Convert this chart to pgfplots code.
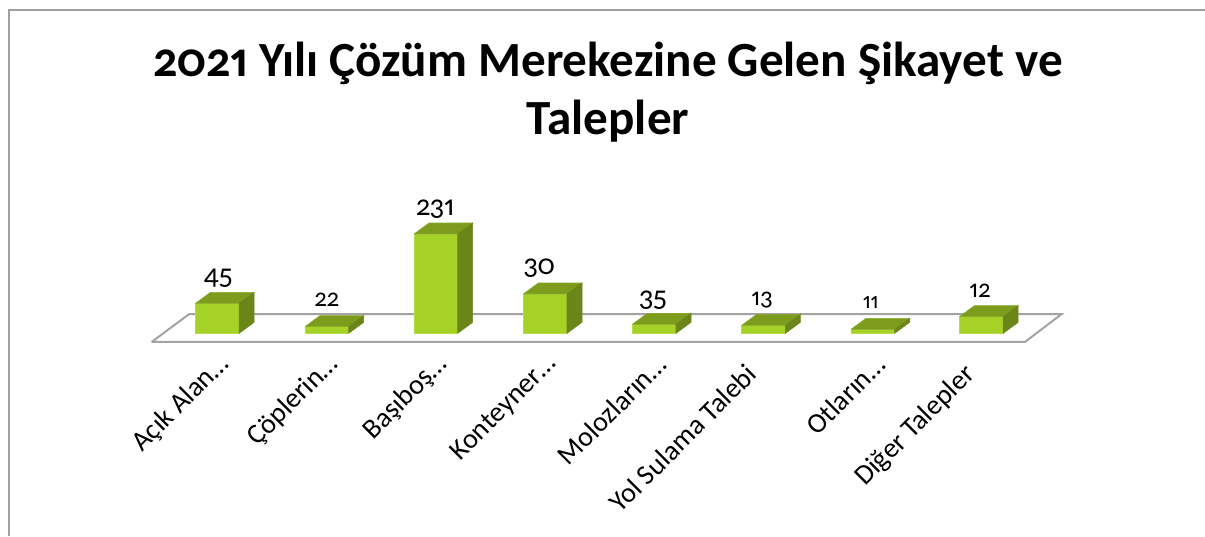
\documentclass[border=0pt]{standalone}
\usepackage{pgfplots}
\pgfplotsset{compat=1.18}
\usepackage{fontspec}
\setmainfont{Carlito}[Numbers={OldStyle,Proportional}]
\definecolor{front}{HTML}{A6D228}
\definecolor{topc}{HTML}{7D9C1E}
\definecolor{sidec}{HTML}{6B8618}
\definecolor{edgec}{HTML}{B5DC4A}
\definecolor{floorc}{HTML}{A3A3A3}
\definecolor{framec}{HTML}{A0A0A0}
\newcommand{\longlab}[1]{\raisebox{11pt}{#1}\kern15pt\relax}
\begin{document}
\begin{tikzpicture}
\begin{axis}[
  scale only axis, width=903.75pt, height=402pt,
  xmin=0, xmax=1205, ymin=-202.7, ymax=333.3,
  axis line style={draw=none}, major tick length=0pt,
  ytick=\empty,
  xtick={217.35,326.85,435.85,545.15,654.15,763.55,872.85,981.35},
  xticklabels={Açık Alan…,Çöplerin…,Başıboş…,Konteyner…,Molozların…,\longlab{Yol Sulama Talebi},Otların…,\longlab{Diğer Talepler}},
  xticklabel style={xshift=5.5pt, yshift=132pt, rotate=45, anchor=east, font=\fontsize{21}{24}\selectfont, inner sep=0pt},
]
% frame and floor
\addplot[draw=framec, line width=1.2pt, forget plot] coordinates {(9,-202.7)(9,323.5)(1205,323.5)};
\addplot[draw=floorc, line width=1.5pt, forget plot] coordinates {(151.7,-8.6)(189.3,19.3)(1061.7,19.3)(1025,-8.6)(151.7,-8.6)};
% front faces: drawn heights
\addplot[ybar, bar width=32.8pt, bar shift=0pt, fill=front, draw=edgec, line width=0.5pt, forget plot] coordinates {
 (217.35,30)(326.85,6.7)(435.85,99.3)(545.15,39.3)(654.15,9)(763.55,8)(872.85,4)(981.35,16.7)};
% top faces
\addplot[fill=topc, draw=topc!80!edgec, line width=0.4pt, forget plot] coordinates {(195.5,30)(239.2,30)(254.2,41)(210.5,41)(195.5,30)};
\addplot[fill=topc, draw=topc!80!edgec, line width=0.4pt, forget plot] coordinates {(305,6.7)(348.7,6.7)(363.7,17.7)(320,17.7)(305,6.7)};
\addplot[fill=topc, draw=topc!80!edgec, line width=0.4pt, forget plot] coordinates {(414,99.3)(457.7,99.3)(472.7,110.3)(429,110.3)(414,99.3)};
\addplot[fill=topc, draw=topc!80!edgec, line width=0.4pt, forget plot] coordinates {(523.3,39.3)(567,39.3)(582,50.3)(538.3,50.3)(523.3,39.3)};
\addplot[fill=topc, draw=topc!80!edgec, line width=0.4pt, forget plot] coordinates {(632.3,9)(676,9)(691,20)(647.3,20)(632.3,9)};
\addplot[fill=topc, draw=topc!80!edgec, line width=0.4pt, forget plot] coordinates {(741.7,8)(785.4,8)(800.4,19)(756.7,19)(741.7,8)};
\addplot[fill=topc, draw=topc!80!edgec, line width=0.4pt, forget plot] coordinates {(851,4)(894.7,4)(909.7,15)(866,15)(851,4)};
\addplot[fill=topc, draw=topc!80!edgec, line width=0.4pt, forget plot] coordinates {(959.5,16.7)(1003.2,16.7)(1018.2,27.7)(974.5,27.7)(959.5,16.7)};
% side faces
\addplot[fill=sidec, draw=sidec, line width=0.4pt, forget plot] coordinates {(239.2,0)(254.2,11)(254.2,41)(239.2,30)(239.2,0)};
\addplot[fill=sidec, draw=sidec, line width=0.4pt, forget plot] coordinates {(348.7,0)(363.7,11)(363.7,17.7)(348.7,6.7)(348.7,0)};
\addplot[fill=sidec, draw=sidec, line width=0.4pt, forget plot] coordinates {(457.7,0)(472.7,11)(472.7,110.3)(457.7,99.3)(457.7,0)};
\addplot[fill=sidec, draw=sidec, line width=0.4pt, forget plot] coordinates {(567,0)(582,11)(582,50.3)(567,39.3)(567,0)};
\addplot[fill=sidec, draw=sidec, line width=0.4pt, forget plot] coordinates {(676,0)(691,11)(691,20)(676,9)(676,0)};
\addplot[fill=sidec, draw=sidec, line width=0.4pt, forget plot] coordinates {(785.4,0)(800.4,11)(800.4,19)(785.4,8)(785.4,0)};
\addplot[fill=sidec, draw=sidec, line width=0.4pt, forget plot] coordinates {(894.7,0)(909.7,11)(909.7,15)(894.7,4)(894.7,0)};
\addplot[fill=sidec, draw=sidec, line width=0.4pt, forget plot] coordinates {(1003.2,0)(1018.2,11)(1018.2,27.7)(1003.2,16.7)(1003.2,0)};
% value labels
\addplot[only marks, mark=none, nodes near coords, point meta=explicit symbolic,
  every node near coord/.append style={anchor=center, inner sep=0pt, font=\fontsize{22}{24}\selectfont}]
  table[meta=label] {
x y label
218 55 45
435 124.5 231
539 65.5 30
653 33.3 35
};
\addplot[only marks, mark=none, nodes near coords, point meta=explicit symbolic,
  every node near coord/.append style={anchor=center, inner sep=0pt, font=\fontsize{19}{24}\selectfont}]
  table[meta=label] {
x y label
326.7 33.3 22
762 33 13
980 43 12
};
\addplot[only marks, mark=none, nodes near coords, point meta=explicit symbolic,
  every node near coord/.append style={anchor=center, inner sep=0pt, font=\fontsize{17}{24}\selectfont}]
  table[meta=label] {
x y label
870.7 31 11
};
\node[align=center, font=\fontsize{36.85}{43.5}\selectfont\bfseries, anchor=center] at (axis cs:608,241) {2021 Yılı Çözüm Merekezine Gelen Şikayet ve\\Talepler};
\end{axis}
\pgfresetboundingbox
\path (0,0) rectangle (903.75pt,402pt);
\end{tikzpicture}
\end{document}
